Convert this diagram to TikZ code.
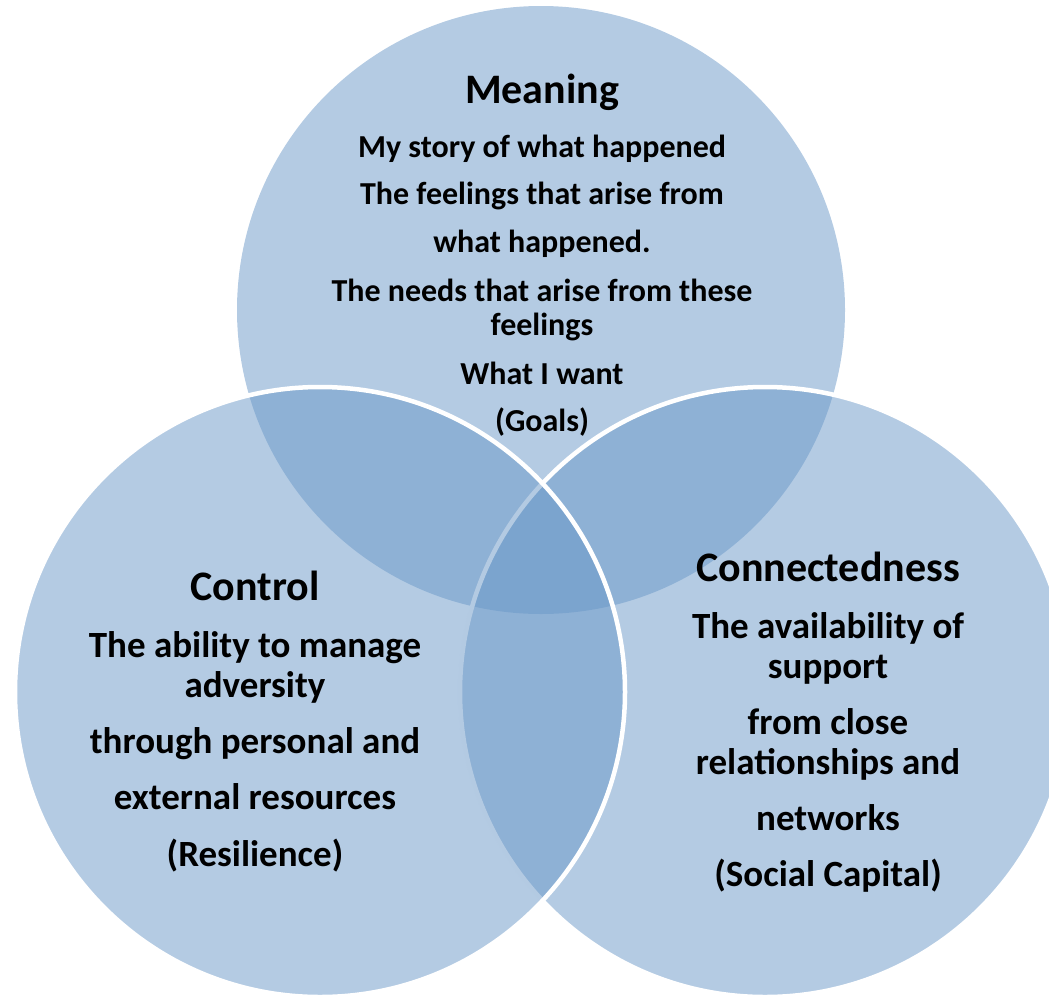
\documentclass[tikz,border=0pt]{standalone}
\usepackage{fontspec}
\setmainfont{Carlito}
\definecolor{vennblue}{RGB}{105,151,199}
\begin{document}
\begin{tikzpicture}[x=1pt,y=-1pt,
  vennfill/.style={fill=vennblue, fill opacity=0.5},
  vennedge/.style={vennfill, draw=white, line width=4.5pt},
  ttl/.style={font=\fontsize{42}{50}\selectfont\bfseries, anchor=base, inner sep=0pt},
  tbody/.style={font=\fontsize{32}{38}\selectfont\bfseries, anchor=base, inner sep=0pt},
  sbody/.style={font=\fontsize{37}{44}\selectfont\bfseries, anchor=base, inner sep=0pt}]
\useasboundingbox (0,0) rectangle (1049,996);
\clip (0,0) rectangle (1049,996);
% circles
\fill[vennfill] (541,310) circle[radius=304];
\draw[vennedge] (765,692) circle[radius=305];
\draw[vennedge] (320,692) circle[radius=305];
% Meaning
\node[ttl]   (m0) at (542,103) {Meaning};
\node[tbody] (m1) at (542,157) {My story of what happened};
\node[tbody] (m2) at (542,204) {The feelings that arise from};
\node[tbody] (m3) at (542,252) {what happened.};
\node[tbody] (m4) at (542,301) {The needs that arise from these};
\node[tbody] (m5) at (542,335) {feelings};
\node[tbody] (m6) at (542,384) {What I want};
\node[tbody] (m7) at (542,431) {(Goals)};
% Control
\node[ttl]   (c0) at (255,600) {Control};
\node[sbody] (c1) at (255,657) {The ability to manage};
\node[sbody] (c2) at (255,697) {adversity};
\node[sbody] (c3) at (255,753) {through personal and};
\node[sbody] (c4) at (255,809) {external resources};
\node[sbody] (c5) at (255,866) {(Resilience)};
% Connectedness
\node[ttl]   (n0) at (828,581) {Connectedness};
\node[sbody] (n1) at (828,638) {The availability of};
\node[sbody] (n2) at (828,678) {support};
\node[sbody] (n3) at (828,734) {from close};
\node[sbody] (n4) at (828,774) {relationships and};
\node[sbody] (n5) at (828,830) {networks};
\node[sbody] (n6) at (828,886) {(Social Capital)};
\end{tikzpicture}
\end{document}
